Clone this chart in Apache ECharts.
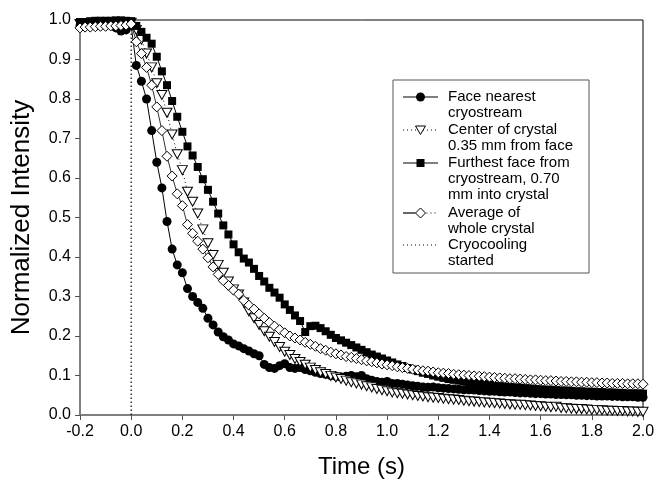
<!DOCTYPE html>
<html>
<head>
<meta charset="utf-8">
<script src="https://cdn.jsdelivr.net/npm/echarts@6/dist/echarts.min.js"></script>
<style>
html,body{margin:0;padding:0;background:#fff;}
#chart{width:657px;height:482px;}
</style>
</head>
<body>
<div id="chart"></div>
<script>
// Time (s)
const times = [
-0.20,-0.18,-0.16,-0.14,-0.12,-0.10,-0.08,-0.06,-0.04,-0.02,
0.00,0.02,0.04,0.06,0.08,0.10,0.12,0.14,0.16,0.18,
0.20,0.22,0.24,0.26,0.28,0.30,0.32,0.34,0.36,0.38,
0.40,0.42,0.44,0.46,0.48,0.50,0.52,0.54,0.56,0.58,
0.60,0.62,0.64,0.66,0.68,0.70,0.72,0.74,0.76,0.78,
0.80,0.82,0.84,0.86,0.88,0.90,0.92,0.94,0.96,0.98,
1.00,1.02,1.04,1.06,1.08,1.10,1.12,1.14,1.16,1.18,
1.20,1.22,1.24,1.26,1.28,1.30,1.32,1.34,1.36,1.38,
1.40,1.42,1.44,1.46,1.48,1.50,1.52,1.54,1.56,1.58,
1.60,1.62,1.64,1.66,1.68,1.70,1.72,1.74,1.76,1.78,
1.80,1.82,1.84,1.86,1.88,1.90,1.92,1.94,1.96,1.98,
2.00];

const faceNearest = [
0.985,0.99,0.99,0.992,0.995,0.995,0.99,0.98,0.972,0.975,
0.985,0.885,0.845,0.80,0.72,0.64,0.575,0.49,0.42,0.38,
0.36,0.32,0.30,0.285,0.27,0.245,0.228,0.21,0.198,0.19,
0.18,0.175,0.168,0.162,0.155,0.15,0.128,0.12,0.118,0.125,
0.13,0.12,0.118,0.12,0.115,0.112,0.108,0.105,0.103,0.10,
0.098,0.096,0.098,0.10,0.097,0.10,0.092,0.088,0.085,0.083,
0.085,0.08,0.08,0.078,0.076,0.074,0.073,0.071,0.07,0.071,
0.069,0.068,0.067,0.066,0.065,0.064,0.064,0.063,0.062,0.061,
0.06,0.06,0.059,0.058,0.058,0.057,0.056,0.056,0.055,0.054,
0.054,0.053,0.053,0.052,0.052,0.051,0.051,0.05,0.05,0.049,
0.049,0.048,0.048,0.048,0.047,0.047,0.046,0.046,0.046,0.045,
0.045];

const centerCrystal = [
0.99,0.99,0.991,0.991,0.992,0.992,0.992,0.993,0.993,0.993,
0.993,0.975,0.95,0.915,0.88,0.84,0.81,0.765,0.71,0.66,
0.62,0.565,0.54,0.51,0.47,0.435,0.405,0.38,0.36,0.338,
0.318,0.305,0.285,0.262,0.245,0.228,0.212,0.198,0.185,0.172,
0.16,0.152,0.142,0.134,0.127,0.12,0.114,0.108,0.104,0.099,
0.095,0.091,0.087,0.083,0.08,0.077,0.073,0.07,0.066,0.063,
0.06,0.057,0.055,0.054,0.052,0.05,0.048,0.047,0.045,0.044,
0.043,0.041,0.04,0.039,0.038,0.036,0.035,0.034,0.033,0.032,
0.031,0.03,0.029,0.028,0.027,0.026,0.026,0.025,0.024,0.023,
0.022,0.021,0.02,0.021,0.018,0.017,0.016,0.015,0.015,0.014,
0.013,0.013,0.012,0.011,0.011,0.01,0.01,0.009,0.009,0.008,
0.008];

const furthestFace = [
0.995,0.995,0.997,0.998,0.998,0.998,0.998,0.999,0.999,0.998,
0.997,0.985,0.97,0.955,0.94,0.907,0.87,0.835,0.795,0.755,
0.717,0.68,0.657,0.628,0.597,0.57,0.54,0.51,0.48,0.457,
0.432,0.412,0.396,0.386,0.37,0.352,0.338,0.322,0.31,0.297,
0.28,0.266,0.252,0.238,0.21,0.225,0.226,0.22,0.212,0.203,
0.195,0.189,0.183,0.177,0.171,0.165,0.159,0.153,0.148,0.143,
0.138,0.133,0.128,0.124,0.119,0.115,0.111,0.107,0.104,0.10,
0.097,0.094,0.091,0.089,0.087,0.085,0.083,0.081,0.079,0.078,
0.076,0.074,0.073,0.072,0.071,0.07,0.069,0.068,0.067,0.066,
0.065,0.064,0.064,0.063,0.062,0.062,0.061,0.06,0.06,0.059,
0.059,0.058,0.058,0.057,0.057,0.056,0.056,0.055,0.055,0.055,
0.054];

const averageCrystal = [
0.98,0.982,0.982,0.983,0.984,0.984,0.985,0.985,0.986,0.987,
0.99,0.945,0.915,0.88,0.835,0.78,0.72,0.655,0.605,0.56,
0.53,0.482,0.46,0.44,0.42,0.398,0.375,0.356,0.34,0.328,
0.316,0.306,0.29,0.278,0.268,0.256,0.245,0.234,0.225,0.216,
0.208,0.2,0.195,0.19,0.184,0.179,0.174,0.168,0.164,0.159,
0.155,0.152,0.148,0.146,0.143,0.14,0.137,0.135,0.132,0.129,
0.127,0.125,0.122,0.12,0.118,0.116,0.114,0.112,0.111,0.109,
0.107,0.106,0.105,0.103,0.102,0.101,0.1,0.099,0.098,0.097,
0.096,0.095,0.094,0.093,0.092,0.092,0.091,0.09,0.089,0.089,
0.088,0.087,0.087,0.086,0.085,0.085,0.084,0.084,0.083,0.083,
0.082,0.082,0.081,0.081,0.08,0.08,0.08,0.079,0.079,0.079,
0.078];

// Cryocooling start marker (time, intensity)
const cryoTimes = [0.0, 0.0];
const cryoValues = [0.0, 0.97];

const xTicks = {min: -0.2, max: 2.0, step: 0.2};
const yTicks = {min: 0.0, max: 1.0, step: 0.1};

const seriesNames = [
  'Face nearest\ncryostream',
  'Center of crystal\n0.35 mm from face',
  'Furthest face from\ncryostream, 0.70\nmm into crystal',
  'Average of\nwhole crystal',
  'Cryocooling\nstarted'
];

function pairs(xs, ys){ return xs.map((x,i)=>[x, ys[i]]); }
const FONT = '"Liberation Sans", Arial, Helvetica, sans-serif';
const fmt = v => (Math.abs(v) < 1e-9 ? 0 : v).toFixed(1);

const chart = echarts.init(document.getElementById('chart'), null, {renderer:'canvas'});

// legend drawn as graphic (box + icons + multi-line text)
const LX = 393, LY = 80;
const iconL = 403, iconR = 438, iconC = 420.5, textX = 448;
const rows = [97, 130, 163, 213, 245];
const legendGraphics = [
  {type:'rect', shape:{x:LX, y:LY, width:196, height:193}, style:{fill:'#fff', stroke:'#555', lineWidth:1}, z:100},
  {type:'line', shape:{x1:iconL, y1:rows[0], x2:iconR, y2:rows[0]}, style:{stroke:'#000', lineWidth:1.2}, z:101},
  {type:'circle', shape:{cx:iconC, cy:rows[0], r:4.5}, style:{fill:'#000'}, z:102},
  {type:'line', shape:{x1:iconL, y1:rows[1], x2:iconR, y2:rows[1]}, style:{stroke:'#000', lineWidth:1, lineDash:[1,3]}, z:101},
  {type:'polygon', shape:{points:[[iconC-5,rows[1]-4],[iconC+5,rows[1]-4],[iconC,rows[1]+4.5]]}, style:{fill:'#fff', stroke:'#000', lineWidth:1}, z:102},
  {type:'line', shape:{x1:iconL, y1:rows[2], x2:iconR, y2:rows[2]}, style:{stroke:'#000', lineWidth:1.2}, z:101},
  {type:'rect', shape:{x:iconC-4, y:rows[2]-4, width:8, height:8}, style:{fill:'#000'}, z:102},
  {type:'line', shape:{x1:iconL, y1:rows[3], x2:iconC-5, y2:rows[3]}, style:{stroke:'#000', lineWidth:1.2}, z:101},
  {type:'line', shape:{x1:iconC+6, y1:rows[3], x2:iconR, y2:rows[3]}, style:{stroke:'#000', lineWidth:1, lineDash:[1,3]}, z:101},
  {type:'polygon', shape:{points:[[iconC-5,rows[3]],[iconC,rows[3]-5],[iconC+5,rows[3]],[iconC,rows[3]+5]]}, style:{fill:'#fff', stroke:'#000', lineWidth:1}, z:102},
  {type:'line', shape:{x1:iconL, y1:rows[4], x2:iconR, y2:rows[4]}, style:{stroke:'#000', lineWidth:1, lineDash:[1,3]}, z:101}
];
seriesNames.forEach((n,i)=>{
  legendGraphics.push({type:'text', x:textX, y:rows[i]-8, z:103,
    style:{text:n, fill:'#000', fontSize:15, fontFamily:FONT, lineHeight:16, verticalAlign:'top', align:'left'}});
});

const option = {
  animation: false,
  backgroundColor: '#fff',
  grid: {left: 80, right: 14, top: 20, bottom: 67, show: true, borderColor: '#000', borderWidth: 1,
         backgroundColor:'transparent', containLabel: false, outerBoundsMode: 'none'},
  xAxis: {
    type: 'value', min: xTicks.min, max: xTicks.max, interval: xTicks.step,
    name: 'Time (s)', nameLocation: 'middle', nameGap: 40,
    nameTextStyle: {fontSize: 24, fontFamily: FONT, color: '#000'},
    axisLine: {show: true, onZero: false, lineStyle: {color: '#808080', width: 1}},
    axisTick: {show: true, inside: false, length: 5, lineStyle: {color: '#555'}},
    axisLabel: {fontSize: 16, fontFamily: FONT, color: '#000', margin: 9, formatter: fmt},
    splitLine: {show: false}
  },
  yAxis: {
    type: 'value', min: yTicks.min, max: yTicks.max, interval: yTicks.step,
    name: 'Normalized Intensity', nameLocation: 'middle', nameGap: 45,
    nameTextStyle: {fontSize: 26, fontFamily: FONT, color: '#000'},
    axisLine: {show: true, onZero: false, lineStyle: {color: '#808080', width: 1}},
    axisTick: {show: true, inside: false, length: 5, lineStyle: {color: '#555'}},
    axisLabel: {fontSize: 16, fontFamily: FONT, color: '#000', margin: 9, formatter: fmt},
    splitLine: {show: false}
  },
  graphic: legendGraphics,
  series: [
    {
      name: seriesNames[4], type: 'line', data: pairs(cryoTimes, cryoValues),
      symbol: 'none', lineStyle: {color: '#000', width: 1.2, type: [1.5, 2.5]}, z: 1
    },
    {
      name: seriesNames[0], type: 'line', data: pairs(times, faceNearest),
      symbol: 'circle', symbolSize: 9, itemStyle: {color: '#000'},
      lineStyle: {color: '#000', width: 1}, z: 2
    },
    {
      name: seriesNames[1], type: 'line', data: pairs(times, centerCrystal),
      symbol: 'path://M0,0L10,0L5,9Z', symbolSize: [10, 9], symbolKeepAspect: false,
      itemStyle: {color: '#fff', borderColor: '#000', borderWidth: 1},
      lineStyle: {color: '#000', width: 1, type: [1, 3]}, z: 3
    },
    {
      name: seriesNames[2], type: 'line', data: pairs(times, furthestFace),
      symbol: 'rect', symbolSize: 8, itemStyle: {color: '#000'},
      lineStyle: {color: '#000', width: 1}, z: 4
    },
    {
      name: seriesNames[3], type: 'line', data: pairs(times, averageCrystal),
      symbol: 'diamond', symbolSize: 10,
      itemStyle: {color: '#fff', borderColor: '#000', borderWidth: 1},
      lineStyle: {color: '#000', width: 0.8}, z: 5
    }
  ]
};
chart.setOption(option);
</script>
</body>
</html>
